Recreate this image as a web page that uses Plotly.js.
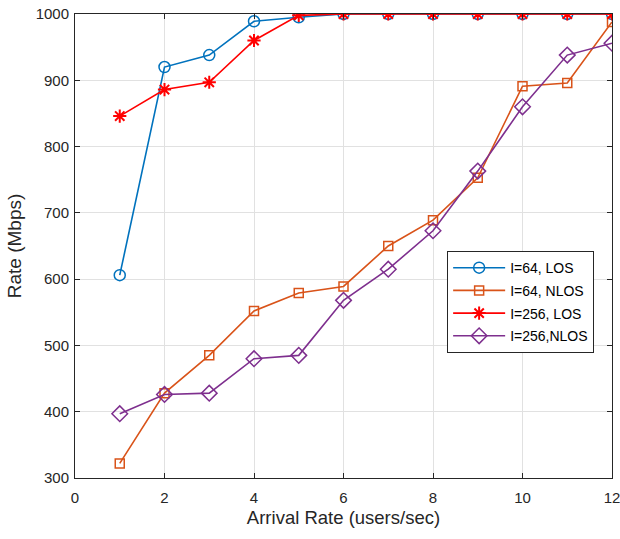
<!DOCTYPE html>
<html><head><meta charset="utf-8">
<script src="https://cdn.plot.ly/plotly-3.0.1.min.js"></script>
<style>html,body{margin:0;padding:0;background:#fff}#chart{width:620px;height:539px}</style>
</head><body><div id="chart"></div>
<script>
const xVals = [1,2,3,4,5,6,7,8,9,10,11,12];
const i64Los   = [606,920,938,989,995,1000,1000,1000,1000,1000,1000,1000];
const i64Nlos  = [322,428,485,552,579,589,650,689,753,891,896,988];
const i256Los  = [846,886,897,960,998,1000,1000,1000,1000,1000,1000,1000];
const i256Nlos = [397,426,428,480,485,568,615,673,763,860,938,956];
const seriesNames = ['I=64, LOS','I=64, NLOS','I=256, LOS','I=256,NLOS'];

const traces = [
  {x:xVals,y:i64Los,name:seriesNames[0],legendgroup:'a',mode:'lines+markers',
   line:{color:'#0072BD',width:1.6},marker:{symbol:'circle-open',size:11,color:'#0072BD',line:{width:1.5}}},
  {x:xVals,y:i64Nlos,name:seriesNames[1],legendgroup:'b',mode:'lines+markers',
   line:{color:'#D95319',width:1.6},marker:{symbol:'square-open',size:9,color:'#D95319',line:{width:1.5}}},
  {x:xVals,y:i256Los,name:seriesNames[2],legendgroup:'c',mode:'lines+markers',
   line:{color:'#FF0000',width:1.6},marker:{symbol:'asterisk-open',size:11,color:'#FF0000',line:{width:2,color:'#FF0000'}}},
  {x:xVals,y:i256Nlos,name:seriesNames[3],legendgroup:'d',mode:'lines+markers',
   line:{color:'#7E2F8E',width:1.6},marker:{symbol:'diamond-open',size:12,color:'#7E2F8E',line:{width:1.5}}}
];

const axisCommon = {
  showline:true, linecolor:'#262626', linewidth:1, mirror:'ticks',
  ticks:'inside', ticklen:5, tickcolor:'#262626',
  showgrid:true, gridcolor:'#e1e1e1', gridwidth:1, zeroline:false,
  tickfont:{family:'Liberation Sans, Arial, sans-serif', size:15, color:'#262626'}
};

const layout = {
  width:620, height:539,
  margin:{l:75, r:8, t:13.5, b:60.5},
  paper_bgcolor:'#fff', plot_bgcolor:'#fff',
  font:{family:'Liberation Sans, Arial, sans-serif', color:'#262626'},
  xaxis:Object.assign({}, axisCommon, {range:[0,12], tickvals:[0,2,4,6,8,10,12], ticklabelstandoff:6,
    ticklabeloverflow:'allow',
    title:{text:'Arrival Rate (users/sec)', font:{size:18.5, color:'#262626'}, standoff:6}}),
  yaxis:Object.assign({}, axisCommon, {range:[300,1000], tickvals:[300,400,500,600,700,800,900,1000], ticklabelstandoff:2,
    ticklabeloverflow:'allow',
    title:{text:'Rate (Mbps)', font:{size:19, color:'#262626'}, standoff:8}}),
  legend:{x:0.693, y:0.489, xanchor:'left', yanchor:'top', bgcolor:'#fff',
    bordercolor:'#262626', borderwidth:1, font:{size:14, color:'#000'}, tracegroupgap:1.5,
    itemwidth:52},
  showlegend:true
};

Plotly.newPlot('chart', traces, layout, {displayModeBar:false, staticPlot:true});
</script></body></html>
